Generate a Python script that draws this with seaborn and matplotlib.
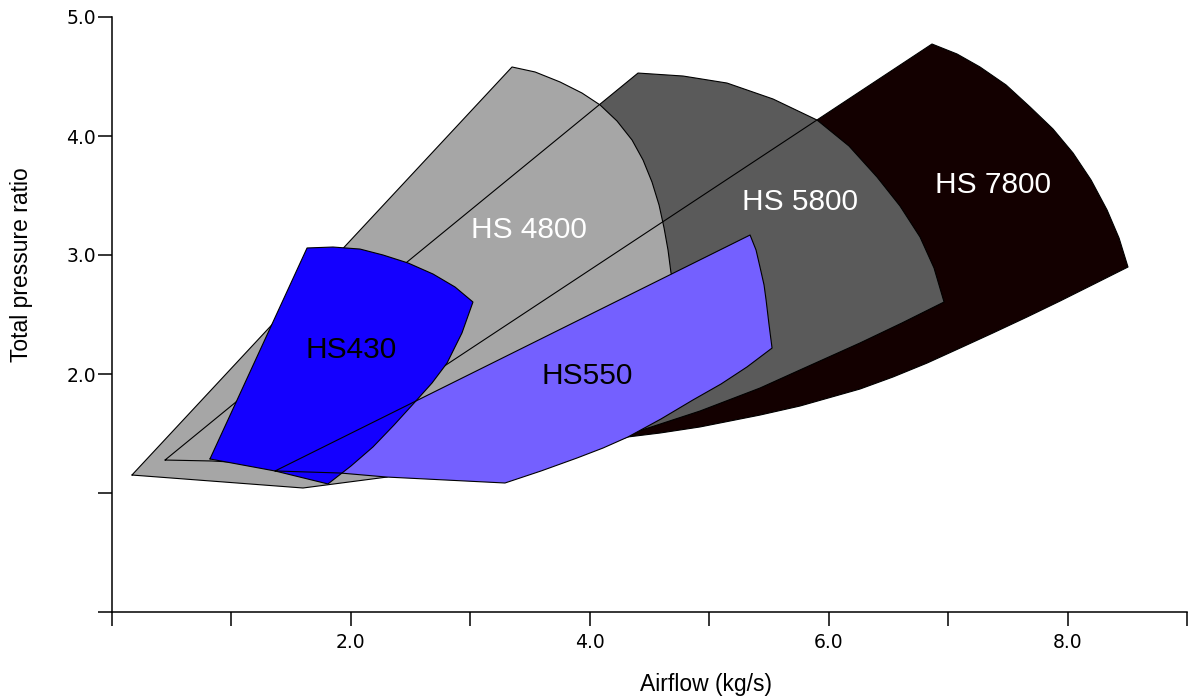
import matplotlib
matplotlib.use("Agg")
import matplotlib.pyplot as plt
import seaborn as sns

# map outlines: airflow (kg/s) vs total pressure ratio
hs7800_x = [1.490, 2.411, 3.249, 3.918, 4.320, 4.588, 4.923, 5.425, 5.760, 6.263,
            6.539, 6.824, 7.100, 7.376, 7.661, 7.937, 8.222, 8.506,
            8.431, 8.331, 8.197, 8.046, 7.878, 7.686, 7.485, 7.267, 7.075, 6.865, 1.490]
hs7800_y = [1.210, 1.210, 1.244, 1.345, 1.471, 1.504, 1.555, 1.655, 1.731, 1.874,
            1.975, 2.092, 2.218, 2.345, 2.479, 2.613, 2.756, 2.899,
            3.143, 3.378, 3.630, 3.857, 4.059, 4.244, 4.429, 4.580, 4.689, 4.773, 1.210]

hs5800_x = [0.444, 0.837, 1.574, 2.411, 3.249, 4.086, 4.488, 4.923, 5.425, 5.760,
            6.263, 6.614, 6.966, 6.882, 6.765, 6.597, 6.405, 6.170, 5.903, 5.534,
            5.149, 4.781, 4.404, 0.444]
hs5800_y = [1.277, 1.269, 1.227, 1.176, 1.227, 1.420, 1.546, 1.689, 1.882, 2.034,
            2.261, 2.429, 2.605, 2.891, 3.151, 3.412, 3.655, 3.916, 4.134, 4.311,
            4.445, 4.504, 4.529, 1.277]

hs4800_x = [0.167, 3.349, 3.542, 3.751, 3.935, 4.086, 4.228, 4.354, 4.446, 4.521,
            4.580, 4.622, 4.655, 4.680, 4.797, 4.086, 3.249, 2.662, 2.302, 1.599, 0.167]
hs4800_y = [1.151, 4.580, 4.538, 4.454, 4.361, 4.261, 4.126, 3.966, 3.798, 3.613,
            3.420, 3.227, 3.042, 2.849, 2.580, 2.034, 1.571, 1.319, 1.134, 1.042, 1.151]

hs550_x = [1.365, 5.342, 5.392, 5.425, 5.459, 5.476, 5.501, 5.526, 5.316, 5.099,
           4.864, 4.596, 4.320, 4.111, 3.893, 3.592, 3.290, 2.302, 1.909, 1.365]
hs550_y = [1.185, 3.168, 3.042, 2.899, 2.748, 2.622, 2.412, 2.218, 2.059, 1.916,
           1.782, 1.622, 1.471, 1.378, 1.294, 1.185, 1.084, 1.134, 1.168, 1.185]

hs430_x = [0.820, 1.633, 1.850, 2.076, 2.269, 2.478, 2.688, 2.872, 3.022, 2.930,
           2.805, 2.679, 2.537, 2.361, 2.185, 2.001, 1.808, 1.365, 0.820]
hs430_y = [1.286, 3.059, 3.067, 3.050, 3.000, 2.933, 2.840, 2.731, 2.605, 2.345,
           2.092, 1.924, 1.765, 1.571, 1.387, 1.227, 1.076, 1.185, 1.286]

x_ticks = [0, 1, 2, 3, 4, 5, 6, 7, 8, 9]
x_ticklabels = ["", "", "2.0", "", "4.0", "", "6.0", "", "8.0", ""]
y_ticks = [0, 1, 2, 3, 4, 5]
y_ticklabels = ["", "", "2.0", "3.0", "4.0", "5.0"]

sns.set_theme(style="ticks")
plt.rcParams["font.family"] = ["Liberation Sans", "DejaVu Sans"]

fig = plt.figure(figsize=(11.88, 6.98), dpi=100)
ax = fig.add_axes([112 / 1188, 86 / 698, 1075 / 1188, 595 / 698])

# grey maps: fills first, then all their outlines on top
ax.fill(hs7800_x, hs7800_y, color="#130000", lw=0, zorder=1)
ax.fill(hs5800_x, hs5800_y, color="#5a5a5a", lw=0, zorder=2)
ax.fill(hs4800_x, hs4800_y, color="#a6a6a6", lw=0, zorder=3)
for xs, ys in [(hs7800_x, hs7800_y), (hs5800_x, hs5800_y), (hs4800_x, hs4800_y)]:
    sns.lineplot(x=xs, y=ys, sort=False, estimator=None, color="black",
                 linewidth=0.8, ax=ax, zorder=4)

# blue maps
ax.fill(hs550_x, hs550_y, color="#7460ff", lw=0, zorder=5)
ax.fill(hs430_x, hs430_y, color="#1400ff", lw=0, zorder=6)
for xs, ys in [(hs550_x, hs550_y), (hs430_x, hs430_y)]:
    sns.lineplot(x=xs, y=ys, sort=False, estimator=None, color="black",
                 linewidth=0.8, ax=ax, zorder=7)

ax.text(3.491, 3.21, "HS 4800", color="white", fontsize=21.5, ha="center", va="center", zorder=8)
ax.text(5.760, 3.445, "HS 5800", color="white", fontsize=21.5, ha="center", va="center", zorder=8)
ax.text(7.376, 3.588, "HS 7800", color="white", fontsize=21.5, ha="center", va="center", zorder=8)
ax.text(2.001, 2.202, "HS430", color="black", fontsize=21.5, ha="center", va="center", zorder=8)
ax.text(3.977, 1.983, "HS550", color="black", fontsize=21.5, ha="center", va="center", zorder=8)

ax.set_xlim(0, 9)
ax.set_ylim(0, 5)
sns.despine(ax=ax)
for s in ["left", "bottom"]:
    ax.spines[s].set_color("black")
    ax.spines[s].set_linewidth(1.1)

ax.set_xticks(x_ticks)
ax.set_xticklabels(x_ticklabels, fontfamily="DejaVu Sans", fontsize=13.5)
ax.set_yticks(y_ticks)
ax.set_yticklabels(y_ticklabels, fontfamily="DejaVu Sans", fontsize=13.5)
ax.tick_params(axis="both", direction="out", length=10, width=1.1, color="black", labelcolor="black")
ax.tick_params(axis="x", pad=5)
ax.tick_params(axis="y", pad=1.5)

ax.set_xlabel("Airflow (kg/s)", fontsize=16.5, color="black")
ax.xaxis.set_label_coords(0.5526, -0.1025)
ax.set_ylabel("Total pressure ratio", fontsize=16.5, color="black")
ax.yaxis.set_label_coords(-0.0735, 0.583)

fig.savefig("out.png", dpi=100)
